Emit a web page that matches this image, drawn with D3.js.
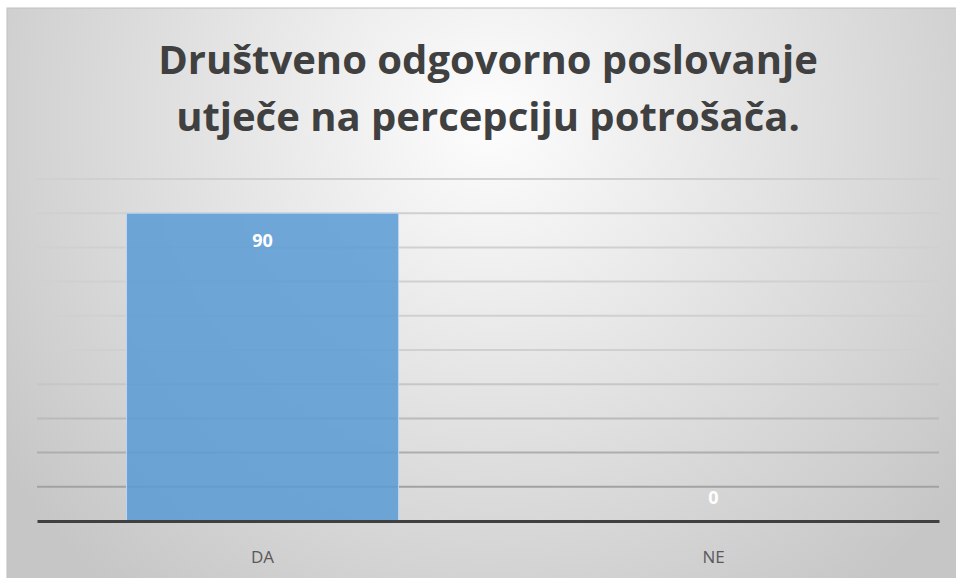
<!DOCTYPE html>
<html>
<head>
<meta charset="utf-8">
<script src="https://cdn.jsdelivr.net/npm/d3@7"></script>
<style>
  body { margin: 0; background: #fff; }
  svg { display: block; }
</style>
</head>
<body>
<div id="chart"></div>
<script>
// data
const categories = ["DA", "NE"];
const values = [90, 0];
const yTicks = [0, 10, 20, 30, 40, 50, 60, 70, 80, 90, 100];
const titleLines = ["Društveno odgovorno poslovanje", "utječe na percepciju potrošača."];

const W = 956, H = 578;
let margin = {top: 179, right: 17, bottom: 57, left: 37},
    width = W - margin.left - margin.right,
    height = 521 - margin.top;

let svg = d3.select("#chart")
    .append("svg")
    .attr("width", W)
    .attr("height", H);

let defs = svg.append("defs");
let bg = defs.append("radialGradient")
    .attr("id", "bg")
    .attr("gradientUnits", "userSpaceOnUse")
    .attr("cx", 490).attr("cy", 120).attr("r", 600);
bg.append("stop").attr("offset", "0%").attr("stop-color", "#fdfdfd");
bg.append("stop").attr("offset", "100%").attr("stop-color", "#c6c6c6");

let gridGrad = defs.append("linearGradient")
    .attr("id", "gridGrad")
    .attr("gradientUnits", "userSpaceOnUse")
    .attr("x1", 0).attr("x2", 0)
    .attr("y1", margin.top).attr("y2", margin.top + height);
gridGrad.append("stop").attr("offset", "0%").attr("stop-color", "#d0d0d0");
gridGrad.append("stop").attr("offset", "100%").attr("stop-color", "#555555");

// chart area
svg.append("rect")
    .attr("x", 7).attr("y", 8)
    .attr("width", W).attr("height", H)
    .attr("fill", "url(#bg)")
    .attr("stroke", "#bfbfbf")
    .attr("stroke-width", 1);

// title
let title = svg.append("text")
    .attr("text-anchor", "middle")
    .attr("font-family", "'Open Sans', sans-serif")
    .attr("font-weight", "bold")
    .attr("font-size", 40)
    .attr("fill", "#404040");
title.selectAll("tspan")
    .data(titleLines)
    .join("tspan")
    .attr("x", 488)
    .attr("y", (d, i) => 74 + i * 57)
    .text(d => d);

let g = svg.append("g")
    .attr("transform", "translate(" + margin.left + "," + margin.top + ")");

let x = d3.scaleBand()
    .domain(categories)
    .range([0, width])
    .paddingInner(0.397)
    .paddingOuter(0.1985);

let y = d3.scaleLinear()
    .domain([0, 100])
    .range([height, 0]);

// gridlines
g.append("g")
    .selectAll("line")
    .data(yTicks.slice(1))
    .join("line")
    .attr("x1", 0).attr("x2", width)
    .attr("y1", d => y(d)).attr("y2", d => y(d))
    .attr("stroke", "url(#gridGrad)")
    .attr("stroke-width", 2);

// bars
g.selectAll("rect.bar")
    .data(values)
    .join("rect")
    .attr("class", "bar")
    .attr("x", (d, i) => x(categories[i]))
    .attr("y", d => y(d))
    .attr("width", x.bandwidth())
    .attr("height", d => height - y(d))
    .attr("fill", "#5b9bd5")
    .attr("fill-opacity", 0.86)
    .attr("stroke", "#bcd6ef")
    .attr("stroke-width", d => d > 0 ? 1 : 0);

// value labels: inside end, or just above the axis when the bar is empty
g.selectAll("text.val")
    .data(values)
    .join("text")
    .attr("class", "val")
    .attr("x", (d, i) => x(categories[i]) + x.bandwidth() / 2)
    .attr("y", d => d > 0 ? y(d) + 34 : y(d) - 17)
    .attr("text-anchor", "middle")
    .attr("font-family", "'Open Sans', sans-serif")
    .attr("font-weight", "bold")
    .attr("font-size", 18)
    .attr("fill", "#ffffff")
    .text(d => d);

// x axis
let xAxis = g.append("g")
    .attr("transform", "translate(0," + height + ")")
    .call(d3.axisBottom(x).tickSize(0).tickPadding(30));
xAxis.select(".domain")
    .attr("stroke", "#404040")
    .attr("stroke-width", 3);
xAxis.selectAll("text")
    .attr("font-family", "'Open Sans', sans-serif")
    .attr("font-size", 17)
    .attr("fill", "#595959");
</script>
</body>
</html>
